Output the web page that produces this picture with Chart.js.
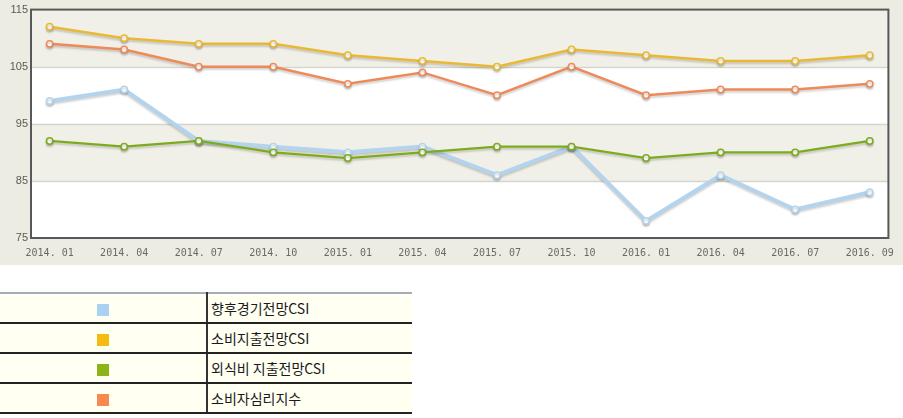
<!DOCTYPE html>
<html>
<head>
<meta charset="utf-8">
<script src="https://cdn.jsdelivr.net/npm/chart.js@4"></script>
<style>
  html, body { margin: 0; padding: 0; background: #fff; }
  #wrap { width: 903px; height: 265px; background: #ecece3; position: relative; }
  #legend { position: absolute; left: 0; top: 292px; width: 412px; border-collapse: collapse;
            border-top: 2px solid #a8acb8; font-family: "Noto Sans CJK KR", sans-serif; font-size: 14px; }
  #legend td { height: 28px; background: #fffff2; border-bottom: 2px solid #222; padding: 0; }
  #legend td.sw { width: 206px; text-align: center; border-right: 2px solid #333; }
  #legend td.sw span { display: inline-block; width: 12px; height: 12px; vertical-align: middle; }
  #legend td.nm { padding-left: 3px; color: #1a1a1a; }
</style>
</head>
<body>
<div id="wrap"><canvas id="csi-chart" width="903" height="265"></canvas></div>
<table id="legend"></table>
<script>
// 축 라벨
const months = ['2014. 01', '2014. 04', '2014. 07', '2014. 10', '2015. 01', '2015. 04',
                '2015. 07', '2015. 10', '2016. 01', '2016. 04', '2016. 07', '2016. 09'];
const yTicks = [75, 85, 95, 105, 115];

// 시리즈 값
const outlookCsi  = [99, 101, 92, 91, 90, 91, 86, 91, 78, 86, 80, 83];      // 향후경기전망CSI
const spendingCsi = [112, 110, 109, 109, 107, 106, 105, 108, 107, 106, 106, 107]; // 소비지출전망CSI
const diningCsi   = [92, 91, 92, 90, 89, 90, 91, 91, 89, 90, 90, 92];        // 외식비 지출전망CSI
const sentiment   = [109, 108, 105, 105, 102, 104, 100, 105, 100, 101, 101, 102]; // 소비자심리지수

const seriesNames = ['향후경기전망CSI', '소비지출전망CSI', '외식비 지출전망CSI', '소비자심리지수'];
const lineColors  = ['#b4d4ee', '#e9b934', '#7dab1e', '#ee8a5a'];
const swatchColors = ['#a9d1f2', '#f5bb10', '#8cb414', '#f88a50'];

// 범례 표
const legend = document.getElementById('legend');
seriesNames.forEach(function(name, i) {
    const tr = document.createElement('tr');
    tr.innerHTML = '<td class="sw"><span style="background:' + swatchColors[i] + '"></span></td>' +
                   '<td class="nm">' + name + '</td>';
    legend.appendChild(tr);
});

function toPoints(values) {
    return values.map(function(v, i) { return { x: i, y: v }; });
}

function makeDataset(label, values, color, width, order) {
    return {
        label: label,
        data: toPoints(values),
        borderColor: color,
        borderWidth: width,
        pointRadius: 3.2,
        pointBorderWidth: 1.5,
        pointBackgroundColor: '#ffffff',
        pointBorderColor: color,
        tension: 0,
        order: order
    };
}

// 배경 띠와 테두리
const bandPlugin = {
    id: 'bands',
    beforeDatasetsDraw(chart) {
        const { ctx, chartArea: a, scales: { y } } = chart;
        ctx.save();
        for (let i = 0; i < yTicks.length - 1; i++) {
            const top = y.getPixelForValue(yTicks[i + 1]);
            const bottom = y.getPixelForValue(yTicks[i]);
            ctx.fillStyle = (i % 2 === 0) ? '#ffffff' : '#f0f0e8';
            ctx.fillRect(a.left, top, a.right - a.left, bottom - top);
        }
        ctx.strokeStyle = '#d6d6d0';
        ctx.lineWidth = 1.5;
        for (let i = 1; i < yTicks.length - 1; i++) {
            const py = Math.round(y.getPixelForValue(yTicks[i])) + 0.5;
            ctx.beginPath();
            ctx.moveTo(a.left, py);
            ctx.lineTo(a.right, py);
            ctx.stroke();
        }
        ctx.strokeStyle = '#58585a';
        ctx.lineWidth = 2;
        ctx.strokeRect(a.left, a.top, a.right - a.left, a.bottom - a.top);
        ctx.restore();
    },
    beforeDatasetDraw(chart) {
        const ctx = chart.ctx;
        ctx.save();
        ctx.shadowColor = 'rgba(0,0,0,0.18)';
        ctx.shadowOffsetY = 2;
        ctx.shadowBlur = 2;
    },
    afterDatasetDraw(chart) {
        chart.ctx.restore();
    }
};

const ctx = document.getElementById('csi-chart').getContext('2d');
window.csiChart = new Chart(ctx, {
    type: 'line',
    data: {
        datasets: [
            makeDataset(seriesNames[0], outlookCsi, lineColors[0], 4, 4),
            makeDataset(seriesNames[1], spendingCsi, lineColors[1], 2.5, 2),
            makeDataset(seriesNames[2], diningCsi, lineColors[2], 2.2, 1),
            makeDataset(seriesNames[3], sentiment, lineColors[3], 2.5, 3)
        ]
    },
    options: {
        responsive: false,
        animation: false,
        layout: { padding: { top: 6, right: 7, left: 0, bottom: 0 } },
        plugins: { legend: { display: false }, tooltip: { enabled: false } },
        scales: {
            x: {
                type: 'linear',
                min: -0.25,
                max: 11.25,
                afterBuildTicks(scale) {
                    scale.ticks = months.map(function(m, i) { return { value: i }; });
                },
                afterFit(scale) { scale.height = 27; },
                grid: { display: false, drawTicks: false },
                border: { display: false },
                ticks: {
                    autoSkip: false,
                    maxRotation: 0,
                    padding: 9,
                    color: '#6a6a62',
                    font: { family: 'DejaVu Sans Mono', size: 10 },
                    callback: function(value) { return months[value]; }
                }
            },
            y: {
                min: 75,
                max: 115,
                afterBuildTicks(scale) {
                    scale.ticks = yTicks.map(function(v) { return { value: v }; });
                },
                afterFit(scale) { scale.width = 31; },
                grid: { display: false, drawTicks: false },
                border: { display: false },
                ticks: {
                    padding: 3,
                    color: '#5a5a55',
                    font: { family: 'Liberation Sans', size: 11 }
                }
            }
        }
    },
    plugins: [bandPlugin]
});
</script>
</body>
</html>
